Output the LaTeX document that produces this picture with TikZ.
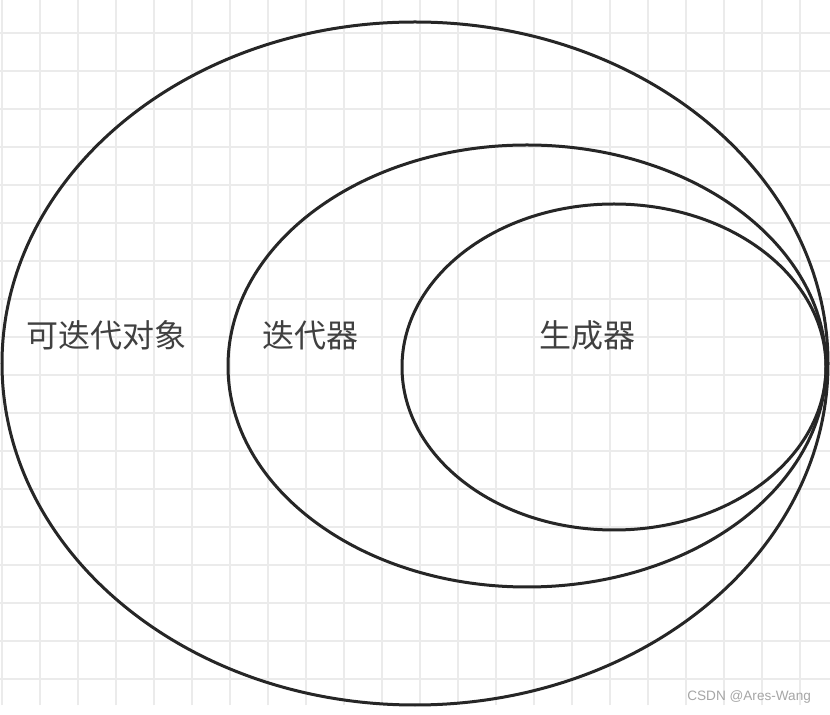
\documentclass[tikz,border=0pt]{standalone}
\usepackage{fontspec}
\setsansfont{Liberation Sans}
\newfontfamily\cjk{Noto Sans CJK SC}
\usetikzlibrary{shapes.geometric}

\tikzset{
  set/.style={draw=black!85, line width=1.5pt, ellipse, inner sep=0pt},
  setname/.style={font=\cjk\fontsize{16}{16}\selectfont, text=black!75},
}

\begin{document}
\begin{tikzpicture}[x=0.5pt, y=-0.5pt]
  \useasboundingbox (0,0) rectangle (830,715);
  \fill[white] (0,0) rectangle (830,715);
  \draw[black!8, line width=0.8pt, shift={(2,-5)}, step=19pt] (-2,5) grid (828,710);
  \node[set, minimum width=413pt, minimum height=341.5pt] (iterable) at (415,363.5) {};
  \node[set, minimum width=299pt, minimum height=221pt] (iterator) at (527,366) {};
  \node[set, minimum width=212pt, minimum height=163pt] (generator) at (614,367) {};
  \node[setname] (t1) at (106,335) {可迭代对象};
  \node[setname] (t2) at (310,335) {迭代器};
  \node[setname] (t3) at (587,335) {生成器};
  \node[font=\sffamily\fontsize{6.8}{7}\selectfont, text=black!35, anchor=east] (mark) at (818,697) {CSDN @Ares-Wang};
\end{tikzpicture}
\end{document}
